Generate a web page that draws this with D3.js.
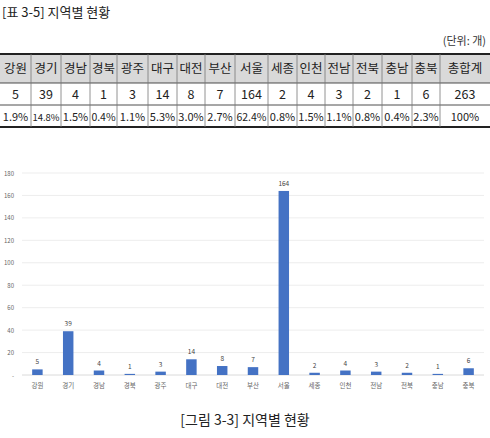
<!DOCTYPE html>
<html><head><meta charset="utf-8">
<script src="https://cdn.jsdelivr.net/npm/d3@7"></script>
<style>body{margin:0;background:#fff}text{font-family:"Noto Sans CJK KR","Noto Sans",sans-serif}</style>
</head><body>
<svg id="c" width="490" height="438"></svg>
<script>
// 표/그림 데이터
const regions = ["강원","경기","경남","경북","광주","대구","대전","부산","서울","세종","인천","전남","전북","충남","충북"];
const counts = [5,39,4,1,3,14,8,7,164,2,4,3,2,1,6];
const shares = ["1.9%","14.8%","1.5%","0.4%","1.1%","5.3%","3.0%","2.7%","62.4%","0.8%","1.5%","1.1%","0.8%","0.4%","2.3%"];
const total = {name: "총합계", count: 263, share: "100%"};
const yTicks = [0,20,40,60,80,100,120,140,160,180];

const svg = d3.select("#c");

svg.append("text").attr("x", 2).attr("y", 17).attr("font-size", 13).attr("fill", "#222")
    .text("[표 3-5] 지역별 현황");
svg.append("text").attr("x", 486).attr("y", 45).attr("text-anchor", "end").attr("font-size", 11).attr("fill", "#333")
    .text("(단위: 개)");

// 표
const colEdges = [0,31,61,90,117,148,177,205,235,268,297,325,353,382,412,440,490];
const rowY = [54,83,105,127];
const rows = [
    regions.concat(total.name),
    counts.map(String).concat(String(total.count)),
    shares.concat(total.share)
];
const rowFont = [12.5, 12.5, 11];
const tbl = svg.append("g");
tbl.append("rect").attr("x", 0).attr("y", rowY[0]).attr("width", 490).attr("height", rowY[1] - rowY[0]).attr("fill", "#d9d9d9");
rowY.forEach((y, i) => {
    tbl.append("line").attr("x1", 0).attr("x2", 490).attr("y1", y).attr("y2", y)
        .attr("stroke", "#222").attr("stroke-width", (i === 0 || i === 3) ? 2 : 0.8);
});
colEdges.slice(1, -1).forEach(x => {
    tbl.append("line").attr("x1", x).attr("x2", x).attr("y1", rowY[0]).attr("y2", rowY[3])
        .attr("stroke", "#777").attr("stroke-width", 0.8);
});
rows.forEach((r, ri) => {
    r.forEach((v, ci) => {
        const w = colEdges[ci + 1] - colEdges[ci];
        let fs = rowFont[ri];
        const t = tbl.append("text")
            .attr("x", (colEdges[ci] + colEdges[ci + 1]) / 2)
            .attr("y", (rowY[ri] + rowY[ri + 1]) / 2 + 4.5)
            .attr("text-anchor", "middle").attr("font-size", fs)
            .attr("fill", "#222").text(v);
        // 칸보다 넓으면 글자 크기를 줄임
        while (t.node().getComputedTextLength() > w - 2 && fs > 8) {
            fs -= 0.5;
            t.attr("font-size", fs);
        }
    });
});

// 막대 차트
const x = d3.scaleBand().domain(regions).range([22, 484]).paddingInner(0.66).paddingOuter(0.33);
const y = d3.scaleLinear().domain([0, 180]).range([375, 173]);

const grid = svg.append("g");
yTicks.forEach(t => {
    grid.append("line").attr("x1", 22).attr("x2", 484).attr("y1", y(t)).attr("y2", y(t))
        .attr("stroke", t === 0 ? "#d0d0d0" : "#e8e8e8").attr("stroke-width", 0.8);
    grid.append("text").attr("x", 14).attr("y", y(t) + 2.5).attr("text-anchor", "end")
        .attr("font-size", 6).attr("fill", "#666").text(t === 0 ? "-" : t);
});

svg.selectAll("rect.bar").data(counts).join("rect").attr("class", "bar")
    .attr("x", (d, i) => x(regions[i])).attr("width", x.bandwidth())
    .attr("y", d => y(d)).attr("height", d => y(0) - y(d)).attr("fill", "#4472c4");

svg.selectAll("text.lbl").data(counts).join("text").attr("class", "lbl")
    .attr("x", (d, i) => x(regions[i]) + x.bandwidth() / 2).attr("y", d => y(d) - 5)
    .attr("text-anchor", "middle").attr("font-size", 6.5).attr("fill", "#444").text(d => d);

svg.selectAll("text.cat").data(regions).join("text").attr("class", "cat")
    .attr("x", d => x(d) + x.bandwidth() / 2).attr("y", 388)
    .attr("text-anchor", "middle").attr("font-size", 6.5).attr("fill", "#666").text(d => d);

svg.append("text").attr("x", 245).attr("y", 425).attr("text-anchor", "middle").attr("font-size", 14).attr("fill", "#222")
    .text("[그림 3-3] 지역별 현황");
</script>
</body></html>
